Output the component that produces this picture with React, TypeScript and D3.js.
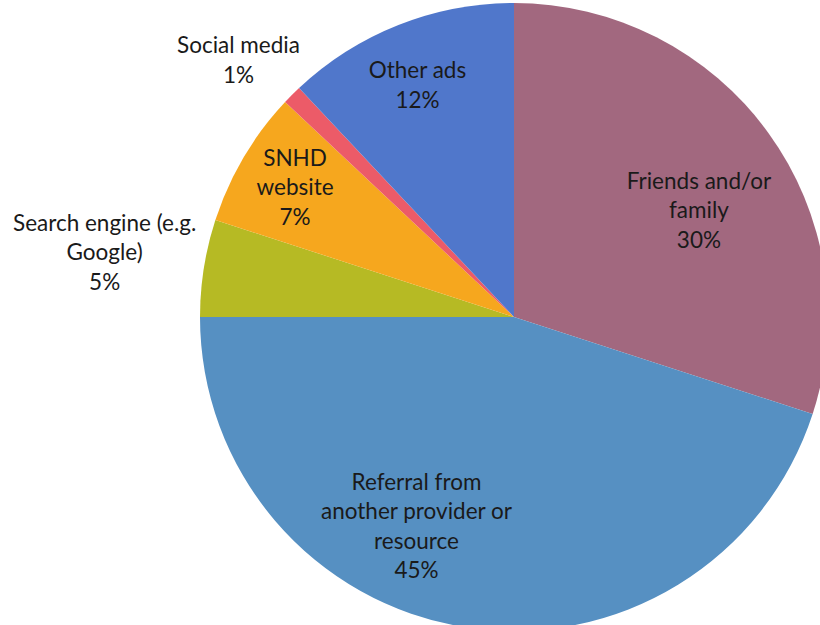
import * as d3 from 'd3';
import { useEffect, useRef } from 'react';

const categories = [
  'Friends and/or family',
  'Referral from another provider or resource',
  'Search engine (e.g. Google)',
  'SNHD website',
  'Social media',
  'Other ads',
];

const values = [30, 45, 5, 7, 1, 12];

// label text split the way the original wraps it
const labelLines = [
  ['Friends and/or', 'family'],
  ['Referral from', 'another provider or', 'resource'],
  ['Search engine (e.g.', 'Google)'],
  ['SNHD', 'website'],
  ['Social media'],
  ['Other ads'],
];

const colors = ['#a2687f', '#5690c2', '#b6ba24', '#f6a71e', '#ec5b68', '#5077cb'];

const width = 820;
const height = 625;

// label placement: fraction of radius and angle nudge (degrees) off the slice middle
const labelPlacement = [
  { r: 0.68, da: 6 },
  { r: 0.735, da: 16 },
  { r: 1.32, da: 0 },
  { r: 0.81, da: 0 },
  { r: 1.2, da: -2 },
  { r: 0.8, da: -1 },
];

const App = () => {
  const ref = useRef<SVGSVGElement | null>(null);

  useEffect(() => {
    document.body.style.margin = '0';
    if (!ref.current) return;

    const svg = d3.select(ref.current);
    svg.selectAll('*').remove();

    const cx = 514;
    const cy = 317;
    const radius = 314;
    const fontFamily = 'Lato, "Open Sans", sans-serif';
    const lineHeight = 29.5;

    const data = categories.map((c, i) => ({ category: c, value: values[i], index: i }));

    const pie = d3
      .pie<{ category: string; value: number; index: number }>()
      .value((d) => d.value)
      .sort(null)
      .startAngle(0)
      .endAngle(2 * Math.PI);

    const arc = d3
      .arc<d3.PieArcDatum<{ category: string; value: number; index: number }>>()
      .innerRadius(0)
      .outerRadius(radius);

    const arcs = pie(data);
    const total = d3.sum(values);

    const g = svg.append('g').attr('transform', `translate(${cx},${cy})`);

    g.selectAll('path')
      .data(arcs)
      .join('path')
      .attr('d', arc)
      .attr('fill', (d) => colors[d.data.index]);

    const labels = g
      .selectAll('g.label')
      .data(arcs)
      .join('g')
      .attr('class', 'label')
      .attr('transform', (d) => {
        const p = labelPlacement[d.data.index];
        const mid = (d.startAngle + d.endAngle) / 2 + (p.da * Math.PI) / 180;
        const r = radius * p.r;
        return `translate(${r * Math.sin(mid)},${-r * Math.cos(mid)})`;
      });

    labels.each(function (d) {
      const lines = [
        ...labelLines[d.data.index],
        `${Math.round((d.data.value / total) * 100)}%`,
      ];
      const text = d3
        .select(this)
        .append('text')
        .attr('text-anchor', 'middle')
        .attr('font-family', fontFamily)
        .attr('font-size', 22.5)
        .attr('fill', '#1a1a1a');
      const offset = -((lines.length - 1) * lineHeight) / 2;
      lines.forEach((line, i) => {
        text
          .append('tspan')
          .attr('x', 0)
          .attr('y', offset + i * lineHeight)
          .attr('dy', '0.35em')
          .text(line);
      });
    });
  }, []);

  return (
    <svg
      ref={ref}
      width={width}
      height={height}
      style={{ display: 'block', background: '#ffffff' }}
    />
  );
};

export default App;
